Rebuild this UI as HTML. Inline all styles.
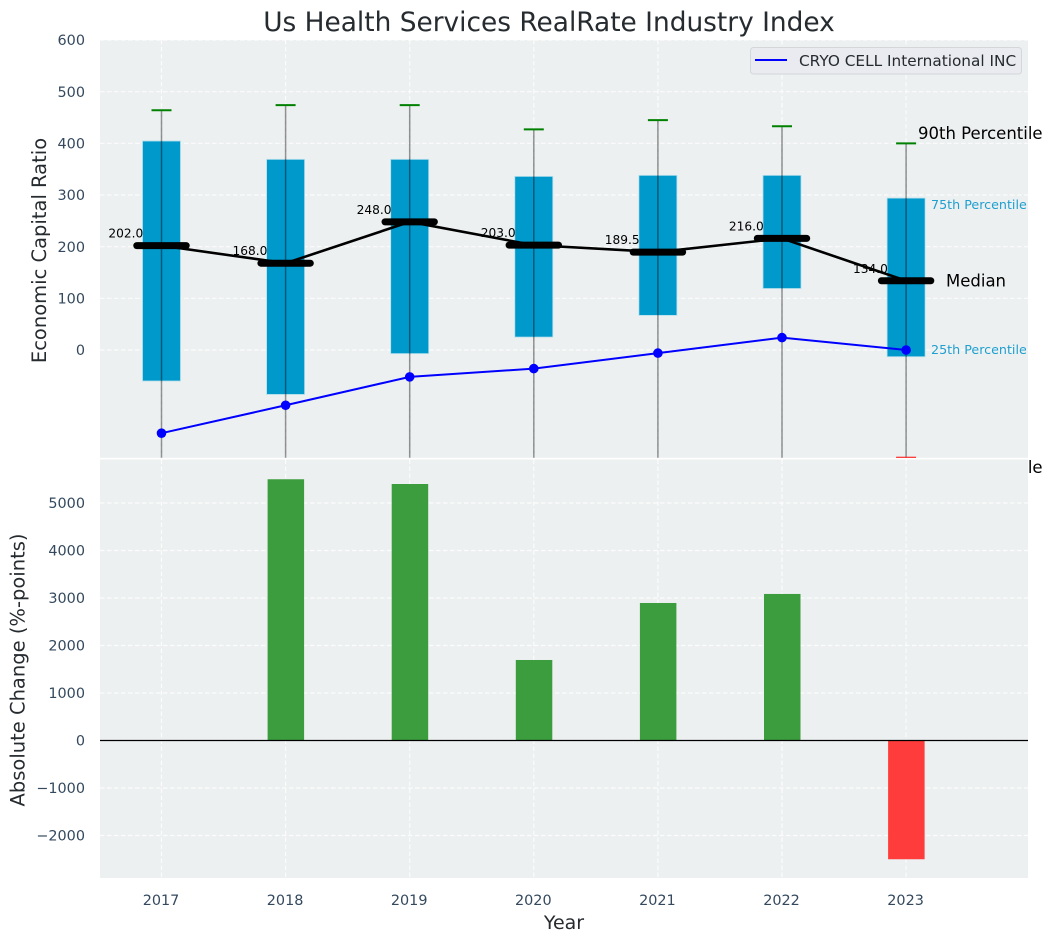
<!DOCTYPE html>
<html>
<head>
<meta charset="utf-8">
<title>Us Health Services RealRate Industry Index</title>
<style>
html,body{margin:0;padding:0;background:#fff;}
svg{display:block;font-family:"DejaVu Sans","Liberation Sans",sans-serif;}
</style>
</head>
<body>
<svg id="chart" xmlns="http://www.w3.org/2000/svg" width="1053" height="942" viewBox="0 0 1053 942">
<defs>
<clipPath id="clip-top"><rect x="100" y="40" width="928" height="417.8"/></clipPath>
<clipPath id="clip-bottom"><rect x="100" y="459.5" width="928" height="418.5"/></clipPath>
</defs>
<text x="549" y="31" text-anchor="middle" font-size="26.4" fill="#262b30">Us Health Services RealRate Industry Index</text>
<rect x="100" y="40" width="928" height="417.8" fill="#ecf0f1"/>
<g id="top-grid"></g>
<g id="top-ticks"></g>
<g id="top-marks" clip-path="url(#clip-top)"></g>
<g id="median-labels"></g>
<g id="median-marks"></g>
<text transform="translate(46,250.5) rotate(-90)" text-anchor="middle" font-size="19.5" fill="#262b30">Economic Capital Ratio</text>
<text x="918" y="139" font-size="16.5" fill="#000">90th Percentile</text>
<text x="931" y="209" font-size="12.7" fill="#1f9fcf">75th Percentile</text>
<text x="946" y="286.5" font-size="16.5" fill="#000">Median</text>
<text x="931" y="354" font-size="12.7" fill="#1f9fcf">25th Percentile</text>
<text x="918" y="473" font-size="16.5" fill="#000">10th Percentile</text>
<g>
<rect x="750.5" y="47.5" width="271" height="26.5" rx="3" fill="#e9ebf0" stroke="#d4d6da"/>
<line x1="755" y1="60" x2="787" y2="60" stroke="#0000ff" stroke-width="2"/>
<text x="799" y="66" font-size="15.3" fill="#262b30">CRYO CELL International INC</text>
</g>
<rect x="100" y="459.5" width="928" height="418.5" fill="#ecf0f1"/>
<g id="bottom-grid"></g>
<g id="bottom-ticks"></g>
<g id="bottom-marks" clip-path="url(#clip-bottom)"></g>
<line x1="100" y1="740.5" x2="1028" y2="740.5" stroke="#000" stroke-width="1.2"/>
<g id="x-ticks"></g>
<text x="564" y="929" text-anchor="middle" font-size="19" fill="#262b30">Year</text>
<text transform="translate(24.5,670) rotate(-90)" text-anchor="middle" font-size="19.5" fill="#262b30">Absolute Change (%-points)</text>
</svg>
<script>
const years = [2017, 2018, 2019, 2020, 2021, 2022, 2023];
const p90 = [464, 474, 474, 427, 445, 433, 400];
const p75 = [404.5, 369, 369, 336, 338, 338, 294];
const medians = [202.0, 168.0, 248.0, 203.0, 189.5, 216.0, 134.0];
const p25 = [-60, -86, -7, 25, 67, 119, -13];
const p10 = [-260, -270, -240, -240, -250, -230, -208.5];
const company = [-161, -107, -52, -36, -6, 24, 0];
const changes = [0, 5500, 5400, 1695, 2895, 3085, -2500];
const topTicks = [0, 100, 200, 300, 400, 500, 600];
const bottomTicks = [-2000, -1000, 0, 1000, 2000, 3000, 4000, 5000];

const NS = 'http://www.w3.org/2000/svg';
function x(year) { return 161.5 + (year - 2017) * 124.1; }
function yTop(v) { return 350 - v * 0.51667; }
function yBottom(v) { return 740.5 - v * 0.0475; }
function make(parent, tag, attrs, text) {
  const el = document.createElementNS(NS, tag);
  for (const k in attrs) el.setAttribute(k, attrs[k]);
  if (text !== undefined) el.textContent = text;
  document.getElementById(parent).appendChild(el);
  return el;
}
function label(v) { return v < 0 ? '\u2212' + Math.abs(v) : String(v); }
const gridStyle = { stroke: '#ffffff', 'stroke-width': 1.15, 'stroke-dasharray': '4.5 2.5', opacity: 0.85 };

topTicks.forEach(function (t) {
  const g = make('top-grid', 'line', Object.assign({ x1: 100, x2: 1028, y1: yTop(t), y2: yTop(t) }, gridStyle));
  
  
  const l = make('top-ticks', 'text', { x: 85, y: yTop(t) + 5.2, 'text-anchor': 'end', 'font-size': 14.4, fill: '#34495e' }, label(t));
  
  
});
bottomTicks.forEach(function (t) {
  const g = make('bottom-grid', 'line', Object.assign({ x1: 100, x2: 1028, y1: yBottom(t), y2: yBottom(t) }, gridStyle));
  
  
  const l = make('bottom-ticks', 'text', { x: 85, y: yBottom(t) + 5.2, 'text-anchor': 'end', 'font-size': 14.4, fill: '#34495e' }, label(t));
  
  
});
years.forEach(function (yr) {
  const a = make('top-grid', 'line', Object.assign({ x1: x(yr), x2: x(yr), y1: 40, y2: 457.8 }, gridStyle));
  
  
  const b = make('bottom-grid', 'line', Object.assign({ x1: x(yr), x2: x(yr), y1: 459.5, y2: 878 }, gridStyle));
  
  
  const l = make('x-ticks', 'text', { x: x(yr) - 0.5, y: 905, 'text-anchor': 'middle', 'font-size': 14.4, fill: '#34495e' }, String(yr));
  
  
});

years.forEach(function (yr, i) {
  const cx = x(yr);
  const box = make('top-marks', 'rect', { x: cx - 19, y: yTop(p75[i]), width: 38, height: yTop(p25[i]) - yTop(p75[i]), fill: '#0099cc', stroke: '#b5dfec', 'stroke-width': 0.8 });
  
  
  const w = make('top-marks', 'line', { x1: cx, x2: cx, y1: yTop(p90[i]), y2: yTop(p10[i]), stroke: '#000', 'stroke-opacity': 0.42, 'stroke-width': 1.5 });
  
  
  const c1 = make('top-marks', 'line', { x1: cx - 10, x2: cx + 10, y1: yTop(p90[i]), y2: yTop(p90[i]), stroke: '#008000', 'stroke-width': 2 });
  
  
  const c2 = make('top-marks', 'line', { x1: cx - 10, x2: cx + 10, y1: yTop(p10[i]), y2: yTop(p10[i]), stroke: '#ff0000', 'stroke-width': 2 });
  
  
});

const companyPts = years.map(function (yr, i) { return x(yr) + ',' + yTop(company[i]); }).join(' ');
const companyLine = make('top-marks', 'polyline', { points: companyPts, fill: 'none', stroke: '#0000ff', 'stroke-width': 2 });


years.forEach(function (yr, i) {
  const d = make('top-marks', 'circle', { cx: x(yr), cy: yTop(company[i]), r: 4.8, fill: '#0000ff' });
  
  
});

years.forEach(function (yr, i) {
  const t = make('median-labels', 'text', { x: x(yr) - 18.2, y: yTop(medians[i]) - 8, 'text-anchor': 'end', 'font-size': 12.2, fill: '#000' }, medians[i].toFixed(1));
  
  
});
const medianPts = years.map(function (yr, i) { return x(yr) + ',' + yTop(medians[i]); }).join(' ');
const medianLine = make('median-marks', 'polyline', { points: medianPts, fill: 'none', stroke: '#000', 'stroke-width': 2.6 });


years.forEach(function (yr, i) {
  const m = make('median-marks', 'line', { x1: x(yr) - 24.7, x2: x(yr) + 24.7, y1: yTop(medians[i]), y2: yTop(medians[i]), stroke: '#000', 'stroke-width': 7, 'stroke-linecap': 'round' });
  
  
});

years.forEach(function (yr, i) {
  const v = changes[i];
  const top = Math.min(yBottom(v), yBottom(0));
  const h = Math.abs(yBottom(v) - yBottom(0));
  const b = make('bottom-marks', 'rect', { x: x(yr) - 18, y: top, width: 36.5, height: h, fill: v >= 0 ? '#3c9d3f' : '#ff3c3c' });
  
  
});
</script>
</body>
</html>
